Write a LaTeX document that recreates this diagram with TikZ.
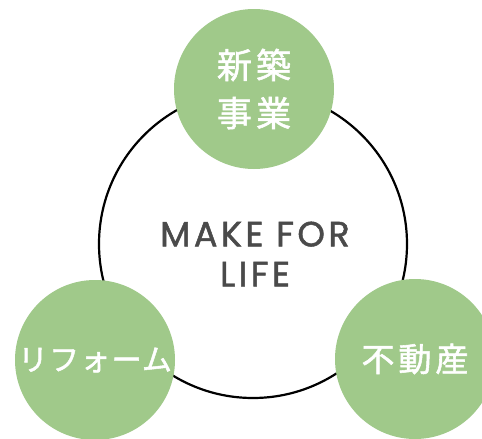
\documentclass[tikz,border=0pt]{standalone}
\usepackage{fontspec}
\newfontfamily\cjk[LetterSpace=12,FakeBold=1.6]{Noto Sans CJK JP}
\newfontfamily\cjkk[LetterSpace=4,FakeBold=1.6]{Noto Sans CJK JP}
\newfontfamily\brand[LetterSpace=10,FakeBold=1.4]{Poppins}
\definecolor{leaf}{RGB}{160,201,138}
\definecolor{ink}{RGB}{74,74,74}
\tikzset{
  hub/.style={circle, draw=black, line width=2.2pt, minimum size=308pt, inner sep=0pt},
  biz/.style={circle, fill=leaf, minimum size=160pt, inner sep=0pt, text=white, align=center},
}
\begin{document}
\begin{tikzpicture}[x=1pt,y=-1pt]
\useasboundingbox (0,0) rectangle (482,439);
\clip (0,0) rectangle (482,439);
\fill[white] (0,0) rectangle (482,439);
\node[hub] (life) at (253,244) {};
\node[text=ink, align=center, font=\brand\fontsize{35}{40}\selectfont] (motto) at (255,254) {MAKE FOR\\LIFE};
\node[biz, font=\cjk\fontsize{35}{48}\selectfont] (shin) at (254,89) {新築\\事業};
\node[biz, font=\cjkk\fontsize{30}{30}\selectfont] (reform) at (95,360) {リフォーム};
\node[biz, font=\cjk\fontsize{33}{36}\selectfont] (fudo) at (415,359) {不動産};
\end{tikzpicture}
\end{document}
